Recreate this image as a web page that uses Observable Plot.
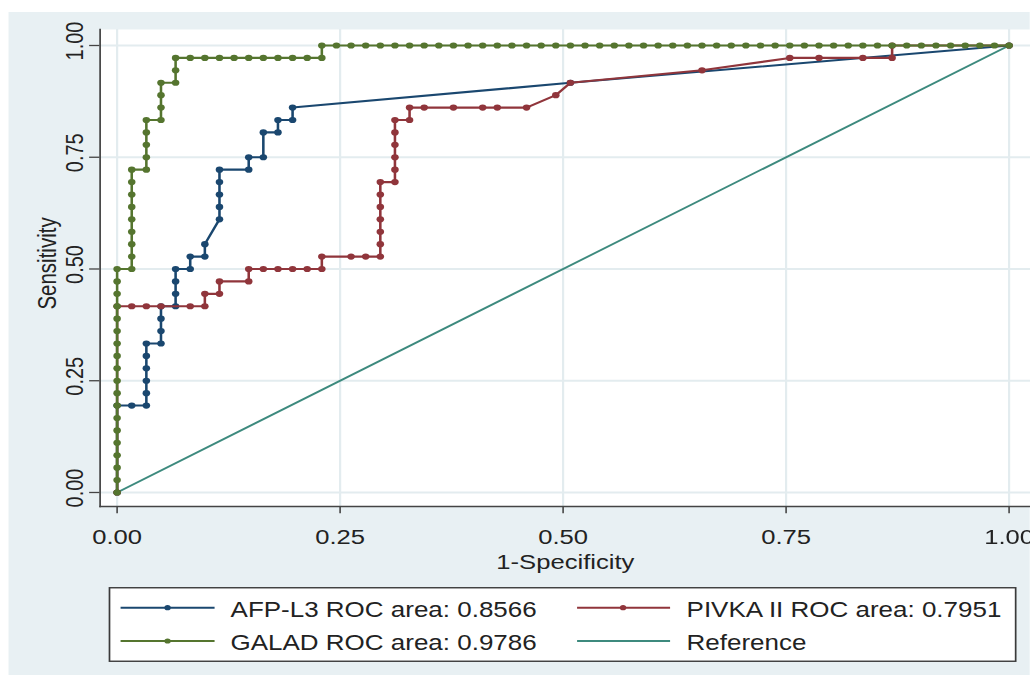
<!DOCTYPE html>
<html>
<head>
<meta charset="utf-8">
<script src="https://cdn.jsdelivr.net/npm/d3@7"></script>
<script src="https://cdn.jsdelivr.net/npm/@observablehq/plot@0.6"></script>
<style>
  html, body { margin: 0; padding: 0; background: #ffffff; overflow: hidden; width: 1030px; height: 675px; }
  #wrap { position: absolute; left: 0; top: 0; height: 675px; transform-origin: 0 0; }
  #bg { position: absolute; top: 12px; right: 0; bottom: 0; background: #E8F0F3; }
  #chart { position: absolute; left: 0; top: 0; }
  #legend { position: absolute; }
</style>
</head>
<body>
<div id="wrap"><div id="bg"></div><div id="chart"></div><div id="legend"></div></div>
<script>
// ---------------- DATA ----------------
// ROC points as [false-positive count, true-positive count]
// 61 non-cases (x step 1/61) and 36 cases (y step 1/36)
const nNeg = 61;
const nPos = 36;

const afpL3 = [
  [0,0],[0,7],[1,7],[2,7],[2,8],[2,9],[2,10],[2,11],[2,12],[3,12],[3,13],[3,14],[3,15],
  [4,15],[4,16],[4,17],[4,18],[5,18],[5,19],[6,19],[6,20],[7,22],[7,23],[7,24],[7,25],[7,26],
  [9,26],[9,27],[10,27],[10,29],[11,29],[11,30],[12,30],[12,31],[31,33],[61,36]
];

const pivkaII = [
  [0,0],[0,15],[1,15],[2,15],[3,15],[5,15],[6,15],[6,16],[7,16],[7,17],[9,17],[9,18],
  [10,18],[11,18],[12,18],[13,18],[14,18],[14,19],[16,19],[17,19],[18,19],[18,20],[18,21],
  [18,22],[18,23],[18,24],[18,25],[19,25],[19,26],[19,27],[19,28],[19,29],[19,30],[20,30],
  [20,31],[21,31],[23,31],[25,31],[26,31],[28,31],[30,32],[31,33],[40,34],[46,35],[48,35],
  [51,35],[53,35],[53,36],[61,36]
];

const galad = [
  [0,0],[0,1],[0,2],[0,3],[0,4],[0,5],[0,6],[0,7],[0,8],[0,9],[0,10],[0,11],[0,12],[0,13],
  [0,14],[0,15],[0,16],[0,17],[0,18],
  [1,18],[1,19],[1,20],[1,21],[1,22],[1,23],[1,24],[1,25],[1,26],
  [2,26],[2,27],[2,28],[2,29],[2,30],
  [3,30],[3,31],[3,32],[3,33],
  [4,33],[4,34],[4,35],
  [5,35],[6,35],[7,35],[8,35],[9,35],[10,35],[11,35],[12,35],[13,35],[14,35],
  [14,36],[15,36],[16,36],[17,36],[18,36],[19,36],[20,36],[21,36],[22,36],[23,36],[24,36],
  [25,36],[26,36],[27,36],[28,36],[29,36],[30,36],[31,36],[32,36],[33,36],[34,36],[35,36],
  [36,36],[37,36],[38,36],[39,36],[40,36],[41,36],[42,36],[43,36],[44,36],[45,36],[46,36],
  [47,36],[48,36],[49,36],[50,36],[51,36],[52,36],[53,36],[54,36],[55,36],[56,36],[57,36],
  [58,36],[59,36],[60,36],[61,36]
];

// reference diagonal (as rates)
const referenceLine = [[0,0],[1,1]];

const seriesNames = ["AFP-L3", "PIVKA II", "GALAD", "Reference"];
const rocAreas = [0.8566, 0.7951, 0.9786];
const xTicks = [0, 0.25, 0.5, 0.75, 1];
const yTicks = [0, 0.25, 0.5, 0.75, 1];
const xTitle = "1-Specificity";
const yTitle = "Sensitivity";

// ---------------- STYLE / LAYOUT ----------------
const k = 1.22;                 // horizontal stretch of the original graph
const W = 1030 / k;             // virtual width
const H = 580;
const FONT = "'Liberation Sans', Arial, Helvetica, sans-serif";
const colors = ["#1A476F", "#90353B", "#55752F", "#3D8A7E"];
const gridColor = "#E3ECEF";
const axisColor = "#444444";
const textColor = "#222222";

document.getElementById("wrap").style.width = W + "px";
document.getElementById("wrap").style.transform = `scaleX(${k})`;
document.getElementById("bg").style.left = (9 / k) + "px";

const toRate = arr => arr.map(([fp, tp]) => ({x: fp / nNeg, y: tp / nPos}));
const curves = [toRate(afpL3), toRate(pivkaII), toRate(galad)];
const refData = referenceLine.map(([x, y]) => ({x, y}));
const fmt = d3.format(".2f");

const seriesMarks = [];
curves.forEach((c, i) => {
  seriesMarks.push(Plot.line(c, {x: "x", y: "y", stroke: colors[i], strokeWidth: 2.1}));
  seriesMarks.push(Plot.dot(c, {x: "x", y: "y", r: 3.1, fill: colors[i], stroke: "none"}));
});

const chart = Plot.plot({
  width: W,
  height: H,
  marginLeft: 99.5 / k,
  marginRight: 0,
  marginTop: 29,
  marginBottom: H - 506,
  insetLeft: 17 / k,
  insetRight: 21.5 / k,
  insetTop: 16,
  insetBottom: 14,
  style: {background: "transparent", fontFamily: FONT, overflow: "visible", color: textColor},
  x: {domain: [0, 1]},
  y: {domain: [0, 1]},
  marks: [
    Plot.frame({fill: "white", stroke: null}),
    Plot.gridX(xTicks, {stroke: gridColor, strokeOpacity: 1, strokeWidth: 1.8}),
    Plot.gridY(yTicks, {stroke: gridColor, strokeOpacity: 1, strokeWidth: 1.8}),
    Plot.axisX(xTicks, {tickSize: 7.3, tickPadding: 15, fontSize: 21, tickFormat: fmt,
      label: null, stroke: axisColor, fill: textColor, strokeWidth: 1.3}),
    Plot.axisY(yTicks, {tickSize: 8.5, fill: "none", label: null, stroke: axisColor, strokeWidth: 1.3}),
    Plot.axisY(yTicks, {tickSize: 0, tickPadding: 14.1, tickRotate: -90, fontSize: 20, dy: -4.5,
      tickFormat: fmt, label: null, fill: textColor}),
    Plot.frame({anchor: "left", stroke: axisColor, strokeWidth: 1.4}),
    Plot.frame({anchor: "bottom", stroke: axisColor, strokeWidth: 1.4}),
    Plot.line(refData, {x: "x", y: "y", stroke: colors[3], strokeWidth: 1.8}),
    ...seriesMarks,
    Plot.text([xTitle], {frameAnchor: "bottom", lineAnchor: "bottom", dy: 63, fontSize: 21, fill: textColor}),
    Plot.text([yTitle], {frameAnchor: "left", rotate: -90, lineAnchor: "bottom", textAnchor: "middle",
      dx: (55 - 99.5) / k, dy: -4.5, fontSize: 20.5, fill: textColor})
  ]
});
document.getElementById("chart").appendChild(chart);

// ---------------- LEGEND (below the plot) ----------------
const boxLeft = 108.5, boxTop = 587, boxW = 908, boxH = 75;   // real pixels
const legendEl = document.getElementById("legend");
legendEl.style.left = (boxLeft / k) + "px";
legendEl.style.top = boxTop + "px";
const lw = boxW / k;
const lsvg = d3.create("svg").attr("width", lw).attr("height", boxH)
  .style("display", "block").style("overflow", "visible");
lsvg.append("rect").attr("x", 0.75).attr("y", 0.75).attr("width", lw - 1.5).attr("height", boxH - 1.5)
  .attr("fill", "white").attr("stroke", "#3a3a3a").attr("stroke-width", 1.4);

const labels = seriesNames.map((n, i) => i < rocAreas.length ? `${n} ROC area: ${rocAreas[i].toFixed(4)}` : n);
// legend grid: order AFP-L3, PIVKA II (row 1), GALAD, Reference (row 2)
const cols = [{l0: 12, l1: 106, dot: 59, tx: 122}, {l0: 468.5, l1: 561.5, dot: 514.5, tx: 578}];
const rows = [{ly: 20.7, by: 29.7}, {ly: 54, by: 63}];
labels.forEach((lab, i) => {
  const c = cols[i % 2], r = rows[Math.floor(i / 2)];
  const g = lsvg.append("g");
  g.append("line").attr("x1", c.l0 / k).attr("x2", c.l1 / k).attr("y1", r.ly).attr("y2", r.ly)
    .attr("stroke", colors[i]).attr("stroke-width", 2);
  if (i < 3) g.append("circle").attr("cx", c.dot / k).attr("cy", r.ly).attr("r", 2.6).attr("fill", colors[i]);
  g.append("text").attr("x", c.tx / k).attr("y", r.by).text(lab)
    .attr("font-family", FONT).attr("font-size", 21.3).attr("fill", textColor);
});
legendEl.appendChild(lsvg.node());
</script>
</body>
</html>
